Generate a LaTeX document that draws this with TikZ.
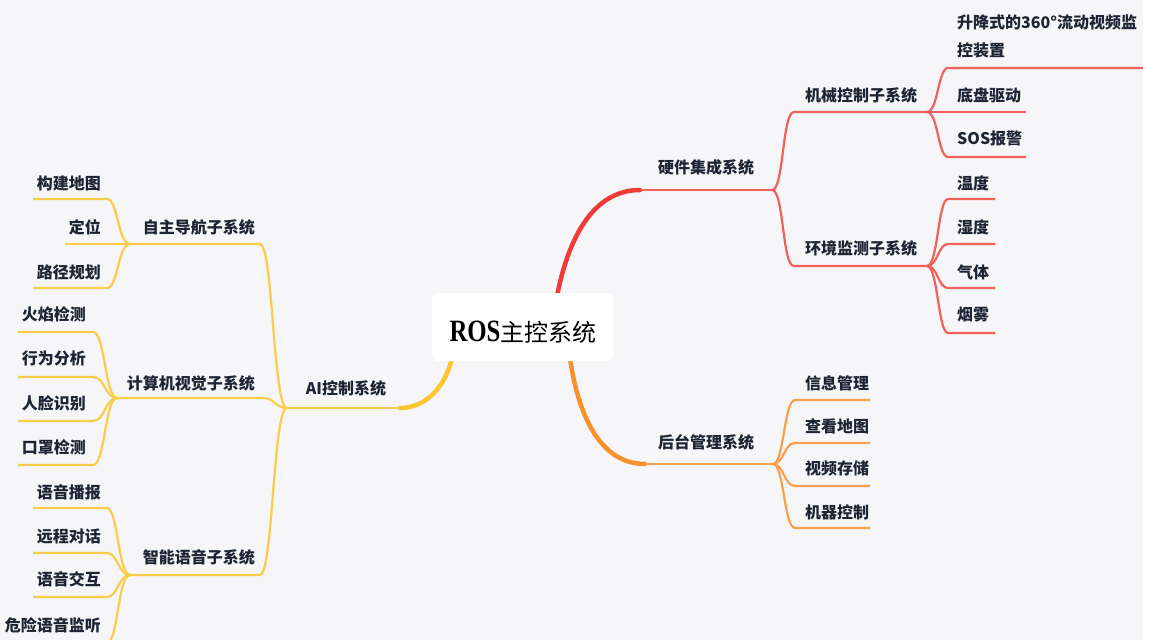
\documentclass[tikz,border=0pt]{standalone}
\usepackage{fontspec}
\newfontfamily\cjk{Noto Sans CJK SC}
\newfontfamily\rosfont{Liberation Serif}
\definecolor{bg}{HTML}{F6F6F8}
\definecolor{ink}{HTML}{1D2535}
\definecolor{redA}{HTML}{EE3B37}
\definecolor{redB}{HTML}{F2605A}
\definecolor{oraA}{HTML}{F7912C}
\definecolor{oraB}{HTML}{F8A050}
\definecolor{yelA}{HTML}{FBC632}
\definecolor{yelB}{HTML}{FBCB4A}
\newcommand{\lblfont}{\cjk\bfseries\fontsize{16}{28}\selectfont}
\begin{document}
\begin{tikzpicture}[x=1pt,y=-1pt,
  lbl/.style={font=\lblfont, text=ink, inner sep=0pt},
  rmain/.style={draw=redA, line width=4.5pt, line cap=round},
  omain/.style={draw=oraA, line width=4.5pt, line cap=round},
  ymain/.style={draw=yelA, line width=4.5pt, line cap=round},
  rsub/.style={draw=redB, line width=2.2pt},
  osub/.style={draw=oraB, line width=2.2pt},
  ysub/.style={draw=yelB, line width=2.2pt},
  rootbox/.style={fill=white, rounded corners=6pt, minimum width=181pt, minimum height=68pt, inner sep=0pt}]
\fill[bg] (0,0) rectangle (1149,640);
\fill[white] (1143,0) rectangle (1149,640);
\useasboundingbox (0,0) rectangle (1149,640);

% anchor points on root
\coordinate (rT) at (557,296);
\coordinate (rB) at (570,358);
\coordinate (rL) at (452,358);

% ---------- red: hardware ----------
\coordinate (hwA) at (640,190);
\coordinate (hwF) at (772,190);
\draw[rmain] (rT) .. controls (568,240) and (592,190) .. (hwA);
\draw[rsub, line width=2.8pt] (hwA) -- (hwF);
\node[lbl] (hw) at (706,167) {硬件集成系统};

\coordinate (meA) at (794,112);
\coordinate (meF) at (927,112);
\draw[rsub] (hwF) .. controls (784,190) and (782,112) .. (meA) -- (meF);
\node[lbl] (me) at (861,95) {机械控制子系统};

\coordinate (enA) at (794,266);
\coordinate (enF) at (927,266);
\draw[rsub] (hwF) .. controls (784,190) and (782,266) .. (enA) -- (enF);
\node[lbl] (en) at (861,248) {环境监测子系统};

% mech children
\coordinate (m1A) at (948,68);
\coordinate (m1B) at (1143,68);
\draw[rsub] (meF) .. controls (938,112) and (938,68) .. (m1A) -- (m1B);
\node[lbl, anchor=west, align=left] (m1) at (957,36) {升降式的360°流动视频监\\控装置};
\coordinate (m2B) at (1026,112);
\draw[rsub] (meF) -- (m2B);
\node[lbl, anchor=west] (m2) at (957,95) {底盘驱动};
\coordinate (m3A) at (948,157);
\coordinate (m3B) at (1026,157);
\draw[rsub] (meF) .. controls (938,112) and (938,157) .. (m3A) -- (m3B);
\node[lbl, anchor=west] (m3) at (957,138) {SOS报警};

% env children
\coordinate (e1A) at (948,199);
\coordinate (e1B) at (995,199);
\draw[rsub] (enF) .. controls (938,266) and (938,199) .. (e1A) -- (e1B);
\node[lbl, anchor=west] (e1) at (957,183) {温度};
\coordinate (e2A) at (948,244);
\coordinate (e2B) at (995,244);
\draw[rsub] (enF) .. controls (938,266) and (938,244) .. (e2A) -- (e2B);
\node[lbl, anchor=west] (e2) at (957,227) {湿度};
\coordinate (e3A) at (948,288);
\coordinate (e3B) at (995,288);
\draw[rsub] (enF) .. controls (938,266) and (938,288) .. (e3A) -- (e3B);
\node[lbl, anchor=west] (e3) at (957,272) {气体};
\coordinate (e4A) at (948,333);
\coordinate (e4B) at (995,333);
\draw[rsub] (enF) .. controls (938,266) and (938,333) .. (e4A) -- (e4B);
\node[lbl, anchor=west] (e4) at (957,315) {烟雾};

% ---------- orange: backend ----------
\coordinate (bgA) at (645,464);
\coordinate (bgF) at (773,464);
\draw[omain] (rB) .. controls (578,415) and (600,464) .. (bgA);
\draw[osub, line width=2.8pt] (bgA) -- (bgF);
\node[lbl] (bk) at (706,442) {后台管理系统};

\coordinate (b1A) at (795,400);
\coordinate (b1B) at (870,400);
\draw[osub] (bgF) .. controls (784,464) and (784,400) .. (b1A) -- (b1B);
\node[lbl, anchor=west] (b1) at (805,383) {信息管理};
\coordinate (b2A) at (795,443);
\coordinate (b2B) at (870,443);
\draw[osub] (bgF) .. controls (784,464) and (784,443) .. (b2A) -- (b2B);
\node[lbl, anchor=west] (b2) at (805,426) {查看地图};
\coordinate (b3A) at (795,486);
\coordinate (b3B) at (870,486);
\draw[osub] (bgF) .. controls (784,464) and (784,486) .. (b3A) -- (b3B);
\node[lbl, anchor=west] (b3) at (805,468) {视频存储};
\coordinate (b4A) at (795,528);
\coordinate (b4B) at (870,528);
\draw[osub] (bgF) .. controls (784,464) and (784,528) .. (b4A) -- (b4B);
\node[lbl, anchor=west] (b4) at (805,512) {机器控制};

% ---------- yellow: AI ----------
\coordinate (aiA) at (400,408);
\coordinate (aiF) at (287,408);
\draw[ymain] (rL) .. controls (445,388) and (425,408) .. (aiA);
\draw[ysub, line width=2.8pt] (aiA) -- (aiF);
\node[lbl] (ai) at (346,388) {AI控制系统};

\coordinate (naA) at (260,244);
\coordinate (naF) at (130,244);
\draw[ysub] (aiF) .. controls (273,408) and (273,244) .. (naA) -- (naF);
\node[lbl, anchor=east] (na) at (255,227) {自主导航子系统};

\coordinate (viA) at (263,398);
\coordinate (viF) at (117,398);
\draw[ysub] (aiF) .. controls (275,408) and (275,398) .. (viA) -- (viF);
\node[lbl, anchor=east] (vi) at (255,383) {计算机视觉子系统};

\coordinate (voA) at (260,575);
\coordinate (voF) at (130,575);
\draw[ysub] (aiF) .. controls (273,408) and (273,575) .. (voA) -- (voF);
\node[lbl, anchor=east] (vo) at (255,557) {智能语音子系统};

% nav children
\coordinate (n1A) at (107,199);
\coordinate (n1B) at (33,199);
\draw[ysub] (naF) .. controls (118,244) and (118,199) .. (n1A) -- (n1B);
\node[lbl, anchor=east] (n1) at (101,183) {构建地图};
\coordinate (n2B) at (65,244);
\draw[ysub] (naF) -- (n2B);
\node[lbl, anchor=east] (n2) at (101,227) {定位};
\coordinate (n3A) at (107,288);
\coordinate (n3B) at (33,288);
\draw[ysub] (naF) .. controls (118,244) and (118,288) .. (n3A) -- (n3B);
\node[lbl, anchor=east] (n3) at (101,272) {路径规划};

% vision children
\coordinate (v1A) at (93,332);
\coordinate (v1B) at (18,332);
\draw[ysub] (viF) .. controls (105,398) and (105,332) .. (v1A) -- (v1B);
\node[lbl, anchor=east] (v1) at (86,314) {火焰检测};
\coordinate (v2A) at (93,377);
\coordinate (v2B) at (18,377);
\draw[ysub] (viF) .. controls (105,398) and (105,377) .. (v2A) -- (v2B);
\node[lbl, anchor=east] (v2) at (86,358) {行为分析};
\coordinate (v3A) at (93,421);
\coordinate (v3B) at (18,421);
\draw[ysub] (viF) .. controls (105,398) and (105,421) .. (v3A) -- (v3B);
\node[lbl, anchor=east] (v3) at (86,403) {人脸识别};
\coordinate (v4A) at (93,465);
\coordinate (v4B) at (18,465);
\draw[ysub] (viF) .. controls (105,398) and (105,465) .. (v4A) -- (v4B);
\node[lbl, anchor=east] (v4) at (86,447) {口罩检测};

% voice children
\coordinate (o1A) at (107,508);
\coordinate (o1B) at (33,508);
\draw[ysub] (voF) .. controls (118,575) and (118,508) .. (o1A) -- (o1B);
\node[lbl, anchor=east] (o1) at (101,492) {语音播报};
\coordinate (o2A) at (107,553);
\coordinate (o2B) at (33,553);
\draw[ysub] (voF) .. controls (118,575) and (118,553) .. (o2A) -- (o2B);
\node[lbl, anchor=east] (o2) at (101,536) {远程对话};
\coordinate (o3A) at (107,597);
\coordinate (o3B) at (33,597);
\draw[ysub] (voF) .. controls (118,575) and (118,597) .. (o3A) -- (o3B);
\node[lbl, anchor=east] (o3) at (101,579) {语音交互};
\coordinate (o4A) at (107,643);
\coordinate (o4B) at (8,643);
\draw[ysub] (voF) .. controls (118,575) and (118,643) .. (o4A) -- (o4B);
\node[lbl, anchor=east] (o4) at (101,625) {危险语音监听};

% ---------- root ----------
\node[rootbox] (root) at (522.5,327) {};
\node[inner sep=0pt, anchor=base, text=black] (roottxt) at (523,341)
  {\scalebox{0.8}[1]{\rosfont\bfseries\fontsize{31}{31}\selectfont ROS}\cjk\fontsize{24}{24}\selectfont 主控系统};
\end{tikzpicture}
\end{document}
